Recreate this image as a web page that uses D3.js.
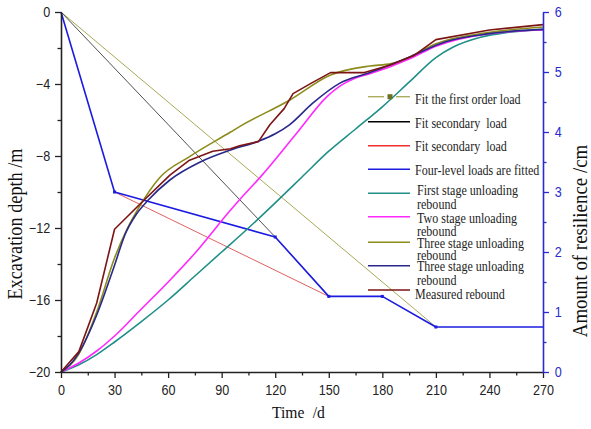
<!DOCTYPE html>
<html>
<head>
<meta charset="utf-8">
<script src="https://cdn.jsdelivr.net/npm/d3@7"></script>
<style>
body{margin:0;background:#fff;}
svg{display:block;}
</style>
</head>
<body>
<svg id="chart" width="591" height="429"></svg>
<script>
// depth lines (left axis, m)
const fitFirst = [[0, 0], [210, -17.5]];
const fitSecondBlack = [[0, 0], [120, -12.5], [150, -15.8]];
const fitSecondRed = [[30, -10], [150, -15.8]];
const fourLevel = [[0, 0], [30, -10], [120, -12.5], [150, -15.8], [180, -15.8], [210, -17.5], [270, -17.5]];

// rebound curves (right axis, cm)
const firstStage = [[0,0],[10,0.12],[20,0.29],[30,0.5],[45,0.84],[60,1.2],[75,1.6],[90,2.0],[105,2.4],[120,2.82],[135,3.25],[150,3.68],[165,4.05],[180,4.42],[195,4.83],[210,5.24],[220,5.42],[235,5.58],[250,5.66],[270,5.71]];
const twoStage = [[0,0],[10,0.15],[20,0.35],[30,0.6],[45,1.05],[61,1.53],[75,1.98],[95,2.7],[100,2.87],[112,3.26],[132,3.98],[149,4.59],[156,4.76],[165,4.9],[173,4.97],[196,5.23],[210,5.43],[240,5.64],[270,5.7]];
const threeStageA = [[0,0],[10,0.3],[20,1.0],[30,1.9],[37,2.38],[44,2.76],[55,3.23],[72,3.59],[95,4.0],[100,4.09],[128,4.53],[151,4.95],[173,5.1],[185,5.14],[196,5.26],[210,5.47],[240,5.66],[270,5.75]];
const threeStageB = [[0,0],[5,0.12],[10,0.32],[20,0.95],[30,1.78],[36,2.3],[42,2.62],[49,2.87],[61,3.2],[78,3.5],[95,3.7],[110,3.84],[120,3.97],[128,4.12],[141,4.48],[156,4.81],[173,4.99],[196,5.26],[215,5.5],[240,5.64],[270,5.71]];
const measured = [[0,0],[10,0.34],[20,1.15],[30,2.38],[45,2.82],[61,3.28],[72,3.53],[85,3.68],[95,3.72],[100,3.77],[110.6,3.84],[117,4.12],[125,4.39],[130,4.64],[140,4.81],[151,4.99],[170,4.99],[185,5.12],[198,5.28],[210,5.54],[240,5.7],[270,5.79]];

const xTicks = [0, 30, 60, 90, 120, 150, 180, 210, 240, 270];
const xMinor = [15, 45, 75, 105, 135, 165, 195, 225, 255];
const yLeftTicks = [-20, -16, -12, -8, -4, 0];
const yLeftMinor = [-18, -14, -10, -6, -2];
const yRightTicks = [0, 1, 2, 3, 4, 5, 6];
const yRightMinor = [0.5, 1.5, 2.5, 3.5, 4.5, 5.5];

const legendLabels = [
	["Fit the first order load"],
	["Fit secondary  load"],
	["Fit secondary  load"],
	["Four-level loads are fitted"],
	["First stage unloading", "rebound"],
	["Two stage unloading", "rebound"],
	["Three stage unloading", "rebound"],
	["Three stage unloading", "rebound"],
	["Measured rebound"]
];

const AXIS_BLUE = "#2a2ad0";
const SERIF = "'Liberation Serif','Times New Roman',serif";
const SANS = "'Liberation Sans',Arial,sans-serif";

const svg = d3.select("#chart");

const x = d3.scaleLinear().domain([0, 270]).range([61, 543]);
const yL = d3.scaleLinear().domain([-20, 0]).range([372, 12]);
const yR = d3.scaleLinear().domain([0, 6]).range([372, 12]);

const lineL = d3.line().x(d => x(d[0])).y(d => yL(d[1]));
const lineR = d3.line().x(d => x(d[0])).y(d => yR(d[1])).curve(d3.curveMonotoneX);
const lineRStraight = d3.line().x(d => x(d[0])).y(d => yR(d[1]));

// series styles
const series = [
	{data: fitFirst, axis: "L", color: "#a8a858", width: 1},
	{data: fitSecondBlack, axis: "L", color: "#505050", width: 1},
	{data: fitSecondRed, axis: "L", color: "#e06060", width: 1},
	{data: fourLevel, axis: "L", color: "#1c1ce0", width: 1.6, marks: true},
	{data: firstStage, axis: "R", color: "#1f8f88", width: 1.6},
	{data: twoStage, axis: "R", color: "#ff28ff", width: 1.6},
	{data: threeStageA, axis: "R", color: "#8c8c1c", width: 1.6},
	{data: threeStageB, axis: "R", color: "#28288c", width: 1.6},
	{data: measured, axis: "R", color: "#7c1414", width: 1.6, straight: true}
];

const plot = svg.append("g");
series.forEach(s => {
	let gen = s.axis == "L" ? lineL : (s.straight ? lineRStraight : lineR);
	plot.append("path")
		.datum(s.data)
		.attr("fill", "none")
		.attr("stroke", s.color)
		.attr("stroke-width", s.width)
		.attr("stroke-linejoin", "round")
		.attr("d", gen);
	if(s.marks){
		plot.selectAll(null)
			.data(s.data.slice(1, -1))
			.enter().append("rect")
			.attr("x", d => x(d[0]) - 1.5)
			.attr("y", d => yL(d[1]) - 1.5)
			.attr("width", 3)
			.attr("height", 3)
			.attr("fill", s.color);
	}
});

function styleAxis(g, color, squeeze){
	g.select(".domain").attr("stroke", color).attr("stroke-width", 1.6);
	g.selectAll(".tick line").attr("stroke", color).attr("stroke-width", 1.3);
	g.selectAll(".tick text")
		.attr("fill", color)
		.style("font-family", SANS)
		.style("font-size", "14px")
		.attr("transform", "scale(" + squeeze + ",1)");
}

// bottom axis
let gx = svg.append("g").attr("transform", "translate(0,372)")
	.call(d3.axisBottom(x).tickValues(xTicks).tickSize(6).tickPadding(7).tickSizeOuter(0));
styleAxis(gx, "#222", 0.9);
let gxm = svg.append("g").attr("transform", "translate(0,372)")
	.call(d3.axisBottom(x).tickValues(xMinor).tickSize(3.5).tickFormat(""));
gxm.select(".domain").remove();
gxm.selectAll(".tick line").attr("stroke", "#222").attr("stroke-width", 1.3);

// left axis
let gl = svg.append("g").attr("transform", "translate(61,0)")
	.call(d3.axisLeft(yL).tickValues(yLeftTicks).tickSize(6).tickPadding(6).tickSizeOuter(0));
styleAxis(gl, "#222", 0.9);
let glm = svg.append("g").attr("transform", "translate(61,0)")
	.call(d3.axisLeft(yL).tickValues(yLeftMinor).tickSize(3.5).tickFormat(""));
glm.select(".domain").remove();
glm.selectAll(".tick line").attr("stroke", "#222").attr("stroke-width", 1.3);

// right axis
let gr = svg.append("g").attr("transform", "translate(543,0)")
	.call(d3.axisRight(yR).tickValues(yRightTicks).tickFormat(d3.format("d")).tickSize(6).tickPadding(7).tickSizeOuter(0));
styleAxis(gr, AXIS_BLUE, 0.9);
let grm = svg.append("g").attr("transform", "translate(543,0)")
	.call(d3.axisRight(yR).tickValues(yRightMinor).tickSize(3.5).tickFormat(""));
grm.select(".domain").remove();
grm.selectAll(".tick line").attr("stroke", AXIS_BLUE).attr("stroke-width", 1.3);

// axis titles
svg.append("text")
	.attr("transform", "translate(21.5,224) rotate(-90) scale(0.87,1)")
	.attr("text-anchor", "middle")
	.style("font-family", SERIF)
	.style("font-size", "21px")
	.attr("fill", "#111")
	.text("Excavation depth /m");

svg.append("text")
	.attr("transform", "translate(587,241) rotate(-90) scale(0.9,1)")
	.attr("text-anchor", "middle")
	.style("font-family", SERIF)
	.style("font-size", "21px")
	.attr("fill", "#111")
	.text("Amount of resilience /cm");

let tt = svg.append("text")
	.attr("transform", "translate(272,418) scale(0.92,1)")
	.style("font-family", SERIF)
	.style("font-size", "17px")
	.attr("fill", "#111");
tt.append("tspan").text("Time");
tt.append("tspan").attr("dx", 9).text("/d");

// legend
const legendLineY = [96.7, 121.7, 145.7, 169.3, 193.3, 216.7, 242.3, 265.7, 290];
const legendTextY = [[99], [123.3], [146.7], [170], [190, 204], [218.3, 231.7], [243.3, 255], [266.7, 280], [294.3]];

const legend = svg.append("g");
series.forEach((s, i) => {
	let ly = legendLineY[i];
	if(i == 0){
		legend.append("line").attr("x1", 368).attr("x2", 384).attr("y1", ly).attr("y2", ly)
			.attr("stroke", s.color).attr("stroke-width", 1.3);
		legend.append("line").attr("x1", 396).attr("x2", 410).attr("y1", ly).attr("y2", ly)
			.attr("stroke", s.color).attr("stroke-width", 1.3);
		legend.append("rect").attr("x", 387.5).attr("y", ly - 2.5).attr("width", 5).attr("height", 5)
			.attr("fill", "#707020");
	} else {
		let col = s.color;
		if(i == 1) col = "#000";
		if(i == 2) col = "#f03030";
		legend.append("line").attr("x1", 368).attr("x2", 410).attr("y1", ly).attr("y2", ly)
			.attr("stroke", col).attr("stroke-width", 1.6);
	}
	legendLabels[i].forEach((t, j) => {
		let tx = legendLabels[i].length > 1 ? 417 : 415;
		legend.append("text")
			.attr("transform", "translate(" + tx + "," + (legendTextY[i][j] + 4.6) + ") scale(0.86,1)")
			.attr("xml:space", "preserve")
			.style("white-space", "pre")
			.style("font-family", SERIF)
			.style("font-size", "14px")
			.attr("fill", "#222")
			.text(t);
	});
});
</script>
</body>
</html>
